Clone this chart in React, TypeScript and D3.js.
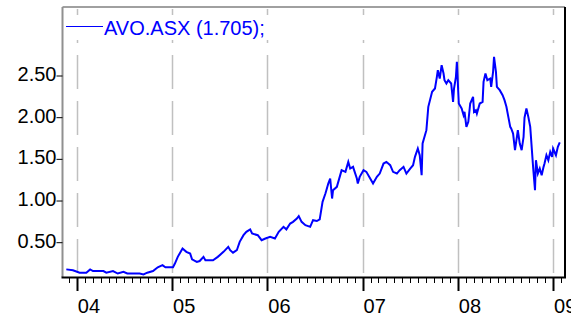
import React, { useEffect, useRef } from 'react';
import * as d3 from 'd3';

// AVO.ASX closing price, dates as decimal years
const dates = [
  2003.89, 2003.96, 2004.03, 2004.10, 2004.14, 2004.17, 2004.28, 2004.31, 2004.38, 2004.43,
  2004.49, 2004.53, 2004.66, 2004.70, 2004.74, 2004.80, 2004.85, 2004.90, 2004.93, 2005.01,
  2005.03, 2005.06, 2005.11, 2005.15, 2005.19, 2005.21, 2005.26, 2005.29, 2005.33, 2005.35,
  2005.43, 2005.48, 2005.54, 2005.59, 2005.61, 2005.64, 2005.68, 2005.71, 2005.75, 2005.78,
  2005.82, 2005.84, 2005.90, 2005.94, 2005.98, 2006.03, 2006.08, 2006.12, 2006.17, 2006.20,
  2006.24, 2006.27, 2006.31, 2006.33, 2006.36, 2006.40, 2006.45, 2006.48, 2006.52, 2006.55,
  2006.58, 2006.61, 2006.62, 2006.64, 2006.66, 2006.68, 2006.69, 2006.73, 2006.76, 2006.78,
  2006.82, 2006.85, 2006.87, 2006.90, 2006.94, 2006.95, 2006.97, 2007.01, 2007.04, 2007.08,
  2007.11, 2007.15, 2007.18, 2007.22, 2007.25, 2007.29, 2007.32, 2007.36, 2007.39, 2007.43,
  2007.46, 2007.50, 2007.53, 2007.55, 2007.58, 2007.60, 2007.62, 2007.63, 2007.67, 2007.69,
  2007.73, 2007.76, 2007.78, 2007.79, 2007.81, 2007.83, 2007.85, 2007.86, 2007.88, 2007.90,
  2007.93, 2007.95, 2007.96, 2007.98, 2007.99, 2008.01, 2008.04, 2008.06, 2008.07, 2008.09,
  2008.11, 2008.13, 2008.16, 2008.17, 2008.19, 2008.20, 2008.23, 2008.26, 2008.27, 2008.29,
  2008.31, 2008.34, 2008.35, 2008.37, 2008.38, 2008.40, 2008.41, 2008.44, 2008.47, 2008.49,
  2008.51, 2008.53, 2008.55, 2008.56, 2008.58, 2008.60, 2008.62, 2008.63, 2008.65, 2008.67,
  2008.69, 2008.70, 2008.72, 2008.74, 2008.76, 2008.77, 2008.79, 2008.81, 2008.82, 2008.84,
  2008.86, 2008.88, 2008.90, 2008.91, 2008.93, 2008.95, 2008.97, 2008.99, 2009.00, 2009.03,
  2009.05, 2009.07
];
const prices = [
  0.18, 0.17, 0.14, 0.14, 0.18, 0.16, 0.16, 0.14, 0.16, 0.13,
  0.15, 0.13, 0.13, 0.12, 0.14, 0.16, 0.205, 0.23, 0.205, 0.205,
  0.25, 0.33, 0.43, 0.39, 0.37, 0.30, 0.27, 0.28, 0.33, 0.29,
  0.29, 0.33, 0.39, 0.45, 0.41, 0.38, 0.41, 0.51, 0.59, 0.63,
  0.66, 0.61, 0.59, 0.53, 0.55, 0.57, 0.55, 0.63, 0.69, 0.66,
  0.73, 0.75, 0.79, 0.82, 0.75, 0.71, 0.69, 0.77, 0.76, 0.78,
  0.99, 1.09, 1.13, 1.21, 1.27, 1.03, 1.13, 1.17, 1.29, 1.37,
  1.35, 1.47, 1.39, 1.41, 1.27, 1.21, 1.29, 1.37, 1.35, 1.27,
  1.21, 1.29, 1.33, 1.45, 1.47, 1.43, 1.35, 1.33, 1.37, 1.41,
  1.33, 1.39, 1.43, 1.53, 1.63, 1.55, 1.31, 1.69, 1.85, 2.13,
  2.31, 2.35, 2.49, 2.57, 2.47, 2.63, 2.53, 2.45, 2.41, 2.45,
  2.41, 2.19, 2.35, 2.49, 2.67, 2.17, 2.11, 2.03, 2.07, 1.89,
  1.95, 2.17, 2.25, 2.07, 2.09, 2.05, 2.17, 2.19, 2.43, 2.53,
  2.45, 2.47, 2.37, 2.55, 2.73, 2.55, 2.37, 2.33, 2.27, 2.21,
  2.13, 2.01, 1.89, 1.87, 1.81, 1.61, 1.77, 1.85, 1.69, 1.61,
  1.77, 2.00, 2.11, 2.01, 1.89, 1.73, 1.41, 1.13, 1.49, 1.33,
  1.39, 1.31, 1.41, 1.45, 1.55, 1.49, 1.59, 1.53, 1.63, 1.55,
  1.65, 1.705
];
const yTicks = [0.5, 1.0, 1.5, 2.0, 2.5];
const years = [2004, 2005, 2006, 2007, 2008, 2009];
const legendLabel = 'AVO.ASX (1.705);';

const W = 571, H = 318;
const left = 62.5, right = 565, top = 7, bottom = 277;
const font = 'Arial, "Liberation Sans", sans-serif';

export default function App() {
  const ref = useRef<SVGSVGElement>(null);

  useEffect(() => {
    const svg = d3.select(ref.current);
    svg.selectAll('*').remove();

    const x = d3.scaleLinear().domain([2003.85, 2009.125]).range([left, right]);
    const y = d3.scaleLinear().domain([0.0885, 3.328]).range([bottom, top]);

    svg.append('rect').attr('width', W).attr('height', H).attr('fill', '#fff');

    // year grid lines
    svg.append('g').selectAll('line').data(years).enter().append('line')
      .attr('x1', d => Math.round(x(d)) + 0.5).attr('x2', d => Math.round(x(d)) + 0.5)
      .attr('y1', 9).attr('y2', bottom)
      .attr('stroke', '#c0c0c0').attr('stroke-width', 1.5)
      .attr('stroke-dasharray', '34 12');

    // legend strip
    svg.append('rect').attr('x', left + 1).attr('y', 15)
      .attr('width', right - left - 2).attr('height', 25).attr('fill', '#fff');
    svg.append('line').attr('x1', 66).attr('x2', 103).attr('y1', 26.5).attr('y2', 26.5)
      .attr('stroke', '#0000ff').attr('stroke-width', 1);
    svg.append('text').attr('x', 104).attr('y', 35)
      .attr('fill', '#0000ff').attr('font-family', font).attr('font-size', 20)
      .text(legendLabel);

    // series
    const pts = dates.map((d, i) => [d, prices[i]] as [number, number]);
    const line = d3.line<[number, number]>().x(d => x(d[0])).y(d => y(d[1]));
    svg.append('path').datum(pts).attr('d', line)
      .attr('fill', 'none').attr('stroke', '#0000ff').attr('stroke-width', 2);

    // frame
    svg.append('line').attr('x1', left).attr('x2', right).attr('y1', top).attr('y2', top)
      .attr('stroke', '#a0a0a0').attr('stroke-width', 2);
    svg.append('line').attr('x1', left).attr('x2', left).attr('y1', top).attr('y2', bottom)
      .attr('stroke', '#909090').attr('stroke-width', 2);
    svg.append('line').attr('x1', right).attr('x2', right).attr('y1', top).attr('y2', bottom + 1)
      .attr('stroke', '#000').attr('stroke-width', 2);
    svg.append('line').attr('x1', left - 1).attr('x2', right + 1).attr('y1', bottom + 0.5).attr('y2', bottom + 0.5)
      .attr('stroke', '#000').attr('stroke-width', 2);

    // y axis
    const yg = svg.append('g');
    yg.selectAll('line').data(yTicks).enter().append('line')
      .attr('x1', left - 6).attr('x2', left).attr('y1', d => y(d)).attr('y2', d => y(d))
      .attr('stroke', '#000').attr('stroke-width', 1);
    yg.selectAll('text').data(yTicks).enter().append('text')
      .attr('x', left - 6).attr('y', d => y(d) + 5)
      .attr('text-anchor', 'end').attr('font-family', font).attr('font-size', 20)
      .attr('fill', '#000').text(d => d3.format('.2f')(d));

    // x axis: monthly minor ticks, yearly major ticks
    const months = d3.range(2003 * 12 + 11, 2009 * 12 + 2).map(m => m / 12)
      .filter(m => x(m) >= left && x(m) <= right);
    svg.append('g').selectAll('line').data(months).enter().append('line')
      .attr('x1', d => Math.round(x(d)) + 0.5).attr('x2', d => Math.round(x(d)) + 0.5)
      .attr('y1', bottom).attr('y2', d => Math.abs(d - Math.round(d)) < 1e-6 ? bottom + 14 : bottom + 6)
      .attr('stroke', '#000').attr('stroke-width', d => Math.abs(d - Math.round(d)) < 1e-6 ? 2 : 1);
    svg.append('g').selectAll('text').data(years).enter().append('text')
      .attr('x', d => x(d) + 1).attr('y', 313)
      .attr('font-family', font).attr('font-size', 20).attr('fill', '#000')
      .text(d => String(d).slice(2));
  }, []);

  return (
    <svg ref={ref} width={W} height={H}
      style={{ position: 'absolute', left: 0, top: 0, display: 'block' }} />
  );
}
